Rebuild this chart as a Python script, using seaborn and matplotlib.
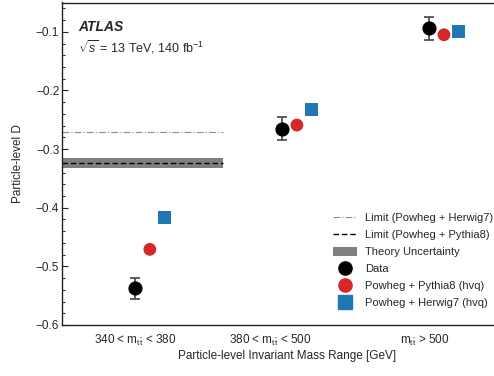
import numpy as np
import pandas as pd
import matplotlib
matplotlib.use("Agg")
import matplotlib.pyplot as plt
import seaborn as sns
from matplotlib.lines import Line2D
from matplotlib.patches import Patch
from matplotlib.ticker import MultipleLocator

# ------------------------------
# Data
# ------------------------------

categories = [r"340 < m$_{\mathrm{t\bar{t}}}$ < 380",
              r"380 < m$_{\mathrm{t\bar{t}}}$ < 500",
              r"m$_{\mathrm{t\bar{t}}}$ > 500"]
data_d = [-0.537, -0.265, -0.094]
data_err = [0.018, 0.019, 0.020]
pythia_d = [-0.471, -0.259, -0.105]
herwig_d = [-0.417, -0.233, -0.0995]

limit_herwig = -0.271
limit_pythia = -0.323
theory_lo, theory_hi = -0.332, -0.315

# ------------------------------
# Style
# ------------------------------

sns.set_style("ticks")
plt.rcParams["font.family"] = ["Liberation Sans", "DejaVu Sans"]
plt.rcParams["mathtext.fontset"] = "custom"
plt.rcParams["mathtext.rm"] = "Liberation Sans"
plt.rcParams["mathtext.it"] = "Liberation Sans:italic"

red = "#d62728"
blue = "#1f77b4"

idx = np.arange(len(categories))
df = pd.DataFrame({
    "x": np.concatenate([idx + 0.1, idx + 0.2]),
    "D": pythia_d + herwig_d,
    "model": ["Powheg + Pythia8 (hvq)"] * 3 + ["Powheg + Herwig7 (hvq)"] * 3,
})

fig = plt.figure(figsize=(4.94, 3.76), dpi=100)
ax = fig.add_axes([62 / 494, 1 - 325 / 376, 432 / 494, 322.5 / 376])

x_left = -0.497
ax.set_xlim(x_left, 2.44)
ax.set_ylim(-0.6, -0.05)

# theory band and limit lines
ax.fill_between([x_left, 0.595], theory_lo, theory_hi, color="#808080", lw=0, zorder=1)
ax.hlines(limit_pythia, x_left, 0.595, colors="black", linestyles=(0, (4, 2)), lw=1, zorder=2)
ax.hlines(limit_herwig, x_left, 0.595, colors="#8c8c8c", linestyles=(0, (6, 2, 1, 2)), lw=0.8, zorder=2)

# model predictions
sns.scatterplot(data=df, x="x", y="D", hue="model", style="model",
                palette={"Powheg + Pythia8 (hvq)": red, "Powheg + Herwig7 (hvq)": blue},
                markers={"Powheg + Pythia8 (hvq)": "o", "Powheg + Herwig7 (hvq)": "s"},
                s=85, linewidth=0, legend=False, ax=ax, zorder=3)

# data with error bars
ax.errorbar(idx, data_d, yerr=data_err, fmt="o", color="black", ms=9.2,
            ecolor="#444444", elinewidth=1.2, capsize=3.5, capthick=1.2, zorder=4)

# axes cosmetics
ax.set_xticks([0.0, 0.92, 1.97])
ax.set_xticklabels(categories, fontsize=8.5)
ax.tick_params(axis="x", length=0, pad=6)
ax.yaxis.set_major_locator(MultipleLocator(0.1))
ax.yaxis.set_minor_locator(MultipleLocator(0.02))
ax.set_yticks(np.arange(-0.6, -0.05, 0.1))
ax.set_yticklabels(["\u22120.6", "\u22120.5", "\u22120.4", "\u22120.3", "\u22120.2", "\u22120.1"])
ax.tick_params(axis="y", which="major", direction="in", length=4, width=0.8, labelsize=8.5, pad=2)
ax.tick_params(axis="y", which="minor", direction="in", length=2.5, width=0.8)
ax.spines["right"].set_visible(False)
for sp in ["left", "top", "bottom"]:
    ax.spines[sp].set_linewidth(1.0)
    ax.spines[sp].set_color("#222222")

ax.set_xlabel("Particle-level Invariant Mass Range [GeV]", fontsize=8.5)
ax.xaxis.set_label_coords((287.5 - 62) / 432, -0.076)
ax.set_ylabel("Particle-level D", fontsize=8.5)
ax.yaxis.set_label_coords(-0.088, 0.5)

# ATLAS label
ax.text(0.037, 0.925, "ATLAS", transform=ax.transAxes, fontsize=10,
        fontweight="bold", fontstyle="italic", va="center")
ax.text(0.037, 0.862, r"$\sqrt{s}$ = 13 TeV, 140 fb$^{-1}$", transform=ax.transAxes,
        fontsize=9, va="center")

# legend
handles = [
    Line2D([], [], color="#8c8c8c", ls=(0, (6, 2, 1, 2)), lw=0.8),
    Line2D([], [], color="black", ls=(0, (4, 2)), lw=1),
    Patch(color="#808080", lw=0),
    Line2D([], [], marker="o", color="black", ls="none", ms=9.5),
    Line2D([], [], marker="o", color=red, ls="none", ms=9.5),
    Line2D([], [], marker="s", color=blue, ls="none", ms=9.5),
]
labels = ["Limit (Powheg + Herwig7)", "Limit (Powheg + Pythia8)", "Theory Uncertainty",
          "Data", "Powheg + Pythia8 (hvq)", "Powheg + Herwig7 (hvq)"]
fig.legend(handles, labels, loc="upper left", bbox_to_anchor=(333 / 494, 1 - 213 / 376),
           frameon=False, fontsize=8, borderpad=0, borderaxespad=0,
           handlelength=2.2, handletextpad=0.65, labelspacing=0.58, handleheight=0.9)

fig.savefig("out.png", dpi=100)
